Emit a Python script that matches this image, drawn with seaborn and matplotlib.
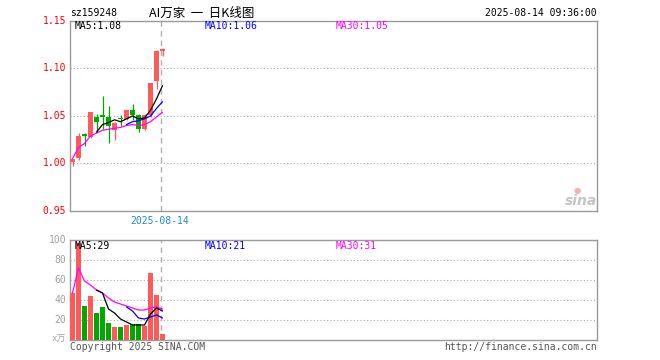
"""
plot.py
Sina-style daily K chart for sz159248 (AI万家) with volume panel.
"""

import numpy as np
import pandas as pd
import matplotlib
matplotlib.use("Agg")
import matplotlib.pyplot as plt
import seaborn as sns

# ─────────────────────────────────────────────
# Data
# ─────────────────────────────────────────────
nan = np.nan
days   = list(range(16))
opens  = [1.002, 1.006, 1.031, 1.028, 1.049, 1.051, 1.049, 1.035,
          1.048, 1.047, 1.056, 1.051, 1.036, 1.051, 1.087, 1.118]
closes = [1.005, 1.029, 1.029, 1.054, 1.044, 1.049, 1.039, 1.043,
          1.047, 1.056, 1.051, 1.036, 1.051, 1.085, 1.118, 1.120]
highs  = [1.005, 1.032, 1.032, 1.054, 1.052, 1.071, 1.060, 1.044,
          1.051, 1.056, 1.063, 1.052, 1.052, 1.085, 1.119, 1.122]
lows   = [0.997, 1.004, 1.018, 1.027, 1.033, 1.036, 1.022, 1.025,
          1.039, 1.046, 1.046, 1.033, 1.035, 1.049, 1.078, 1.113]

ma5  = [nan] * 4 + [1.033, 1.041, 1.043, 1.046, 1.044, 1.047,
                    1.050, 1.047, 1.048, 1.056, 1.068, 1.082]
ma10 = [nan] * 9 + [1.041, 1.044, 1.045, 1.047, 1.050, 1.058, 1.065]
ma30 = [1.005, 1.017, 1.021, 1.029, 1.032, 1.035, 1.036, 1.037,
        1.038, 1.040, 1.041, 1.040, 1.041, 1.044, 1.049, 1.054]

volumes  = [47, 97, 34, 44, 27, 33, 17, 13, 13, 15, 16, 16, 14, 67, 45, 6]
vol_ma5  = [nan] * 4 + [50, 47, 31, 27, 21, 18, 15, 15, 15, 26, 32, 29]
vol_ma10 = [nan] * 9 + [33, 29, 22, 21, 23, 25, 22]
vol_ma30 = [47, 72, 59, 55, 50, 47, 42, 38, 36, 34, 32, 30, 30, 32, 33, 31]

price_ticks = [0.95, 1.00, 1.05, 1.10, 1.15]
vol_ticks   = [20, 40, 60, 80, 100]

# ─────────────────────────────────────────────
# Style
# ─────────────────────────────────────────────
RED, GREEN = "#ff5a5a", "#00a800"
FRAME = "#9a9a9a"
MONO = "DejaVu Sans Mono"

sns.set_theme(style="white")
plt.rcParams["font.family"] = ["DejaVu Sans Mono", "Noto Sans CJK SC"]

W, H = 660, 360
fig = plt.figure(figsize=(W / 100, H / 100), dpi=100)
fig.patch.set_facecolor("white")


def px_axes(left, top, right, bottom):
    return fig.add_axes([left / W, 1 - bottom / H, (right - left) / W, (bottom - top) / H])


def px_text(x, y, s, **kw):
    fig.text(x / W, 1 - y / H, s, **kw)


XMIN = -2.5 / 6
XMAX = XMIN + 527 / 6
MARK = 14.75  # dashed date separator

ax_p = px_axes(70, 21, 597, 211)
ax_v = px_axes(70, 240, 597, 340)

up = [c >= o for o, c in zip(opens, closes)]
colors = [RED if u else GREEN for u in up]

# ─────────────────────────────────────────────
# Price panel
# ─────────────────────────────────────────────
bottoms = [min(o, c) for o, c in zip(opens, closes)]
heights = [max(abs(c - o), 0.0008) for o, c in zip(opens, closes)]
ax_p.vlines(days, lows, highs, colors=colors, lw=0.9, zorder=2)
ax_p.bar(days, heights, bottom=bottoms, width=0.83, color=colors, lw=0, zorder=3)

price_df = pd.DataFrame({"day": days, "MA5": ma5, "MA10": ma10, "MA30": ma30})
for col, c in [("MA30", "#ff00ff"), ("MA10", "#0000ff"), ("MA5", "black")]:
    sns.lineplot(data=price_df, x="day", y=col, ax=ax_p, color=c, lw=0.9,
                 estimator=None, zorder=4)

ax_p.set_ylim(0.95, 1.15)
for y in [1.00, 1.05, 1.10]:
    ax_p.axhline(y, color="#aaaaaa", ls=(0, (1, 2)), lw=0.8, zorder=1)

# ─────────────────────────────────────────────
# Volume panel
# ─────────────────────────────────────────────
vol_df = pd.DataFrame({"day": days, "vol": volumes,
                       "dir": ["up" if u else "down" for u in up],
                       "MA5": vol_ma5, "MA10": vol_ma10, "MA30": vol_ma30})
sns.barplot(data=vol_df, x="day", y="vol", hue="dir", palette={"up": RED, "down": GREEN},
            native_scale=True, width=0.83, dodge=False, legend=False, ax=ax_v,
            linewidth=0, saturation=1, zorder=3)
for col, c in [("MA30", "#ff00ff"), ("MA10", "#0000ff"), ("MA5", "black")]:
    sns.lineplot(data=vol_df, x="day", y=col, ax=ax_v, color=c, lw=0.9,
                 estimator=None, zorder=4)

ax_v.set_ylim(0, 100)
for y in [20, 40, 60, 80]:
    ax_v.axhline(y, color="#aaaaaa", ls=(0, (1, 2)), lw=0.8, zorder=1)

# ─────────────────────────────────────────────
# Shared axes cosmetics
# ─────────────────────────────────────────────
for ax in (ax_p, ax_v):
    ax.set_xlim(XMIN, XMAX)
    ax.set_xticks([])
    ax.set_yticks([])
    ax.set_xlabel("")
    ax.set_ylabel("")
    ax.set_facecolor("white")
    ax.axvline(MARK, color="#b0b0b0", ls=(0, (4, 3)), lw=1, zorder=1)
    for sp in ax.spines.values():
        sp.set_color(FRAME)
        sp.set_linewidth(1)
        sp.set_visible(True)

# y labels drawn as text so they sit like the original
for v in price_ticks:
    y = 21 + (1.15 - v) / 0.20 * 190
    px_text(66, y, f"{v:.2f}", ha="right", va="center", color="red", fontsize=7, family=MONO)
for v in vol_ticks:
    y = 340 - v
    px_text(66, y, str(v), ha="right", va="center", color="#a0a0a0", fontsize=7, family=MONO)
px_text(66, 339, "x万", ha="right", va="center", color="#a8a8a8", fontsize=6.5,
        family=["DejaVu Sans Mono", "Noto Sans CJK SC"])

# ─────────────────────────────────────────────
# Header / legends / footer
# ─────────────────────────────────────────────
px_text(70, 13, "sz159248", ha="left", va="center", color="black", fontsize=7, family=MONO)
px_text(149, 13, "AI万家  一  日K线图", ha="left", va="center", color="black", fontsize=9,
        family=["Noto Sans CJK SC", "DejaVu Sans"])
px_text(597, 13, "2025-08-14 09:36:00", ha="right", va="center", color="black",
        fontsize=7, family=MONO)

px_text(75, 26, "MA5:1.08", ha="left", va="center", color="black", fontsize=7, family=MONO)
px_text(205, 26, "MA10:1.06", ha="left", va="center", color="#0000ff", fontsize=7, family=MONO)
px_text(336, 26, "MA30:1.05", ha="left", va="center", color="#ff00ff", fontsize=7, family=MONO)

px_text(75, 246, "MA5:29", ha="left", va="center", color="black", fontsize=7, family=MONO)
px_text(205, 246, "MA10:21", ha="left", va="center", color="#0000ff", fontsize=7, family=MONO)
px_text(336, 246, "MA30:31", ha="left", va="center", color="#ff00ff", fontsize=7, family=MONO)

px_text(160, 221, "2025-08-14", ha="center", va="center", color="#1a8ad4", fontsize=7, family=MONO)

px_text(70, 347, "Copyright 2025 SINA.COM", ha="left", va="center", color="#555555",
        fontsize=7, family=MONO)
px_text(597, 347, "http://finance.sina.com.cn", ha="right", va="center", color="#555555",
        fontsize=7, family=MONO)

# sina watermark
px_text(597, 201, "sina", ha="right", va="center", color="#c4c4c4", fontsize=10,
        style="italic", weight="bold", family="DejaVu Sans")
px_text(577, 190, "●", ha="center", va="center", color="#f4b0b0", fontsize=6, family="DejaVu Sans")

fig.savefig("out.png", dpi=100, facecolor="white")
print("[INFO] Chart saved -> out.png")
